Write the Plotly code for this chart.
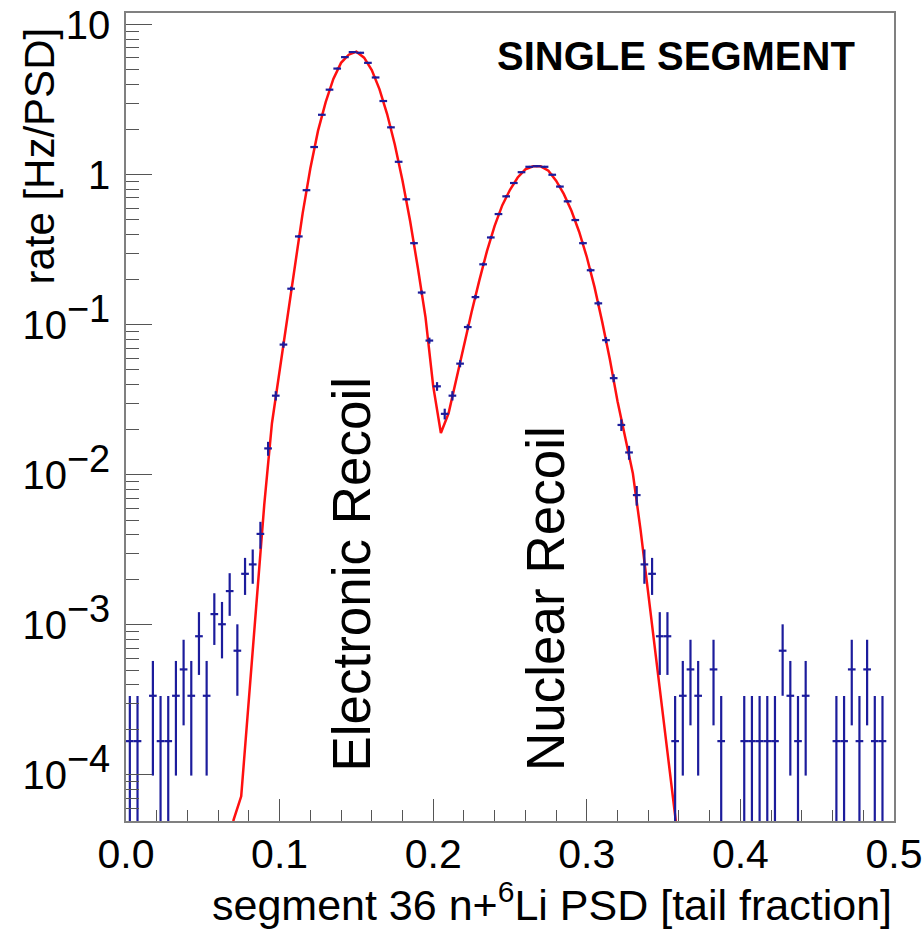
import plotly.graph_objects as go

# ---- data: histogram bins (bin centre, rate, error) ----
psd_bin = [0.0025, 0.0075, 0.0175, 0.0225, 0.0275, 0.0325, 0.0375, 0.0425, 0.0475, 0.0525,
           0.0575, 0.0625, 0.0675, 0.0725, 0.0775, 0.0825, 0.0875, 0.0925, 0.0975, 0.1025,
           0.1075, 0.1125, 0.1175, 0.1225, 0.1275, 0.1325, 0.1375, 0.1425, 0.1475, 0.1525,
           0.1575, 0.1625, 0.1675, 0.1725, 0.1775, 0.1825, 0.1875, 0.1925, 0.1975, 0.2025,
           0.2075, 0.2125, 0.2175, 0.2225, 0.2275, 0.2325, 0.2375, 0.2425, 0.2475, 0.2525,
           0.2575, 0.2625, 0.2675, 0.2725, 0.2775, 0.2825, 0.2875, 0.2925, 0.2975, 0.3025,
           0.3075, 0.3125, 0.3175, 0.3225, 0.3275, 0.3325, 0.3375, 0.3425, 0.3475, 0.3525,
           0.3575, 0.3625, 0.3675, 0.3725, 0.3825, 0.3875, 0.4025, 0.4075, 0.4125, 0.4175,
           0.4225, 0.4275, 0.4325, 0.4375, 0.4425, 0.4625, 0.4675, 0.4725, 0.4775, 0.4825,
           0.4875, 0.4925]

rate = [1.68e-4, 1.68e-4, 3.37e-4, 1.68e-4, 1.68e-4, 3.37e-4, 5.05e-4, 3.37e-4, 8.4e-4, 3.37e-4,
        1.18e-3, 1.01e-3, 1.68e-3, 6.73e-4, 2.19e-3, 2.53e-3, 4.04e-3, 1.50e-2, 3.37e-2, 7.38e-2,
        0.174, 0.388, 0.789, 1.53, 2.51, 3.69, 5.10, 6.08, 6.57, 6.50,
        5.57, 4.45, 3.10, 2.07, 1.22, 0.686, 0.350, 0.164, 0.0785, 0.0389,
        0.0255, 0.0337, 0.0551, 0.0966, 0.153, 0.253, 0.382, 0.547, 0.718, 0.881,
        1.04, 1.13, 1.14, 1.13, 1.00, 0.834, 0.665, 0.499, 0.350, 0.231,
        0.139, 0.079, 0.0441, 0.0215, 0.0141, 7.33e-3, 2.53e-3, 2.19e-3, 8.4e-4, 8.4e-4,
        1.68e-4, 3.37e-4, 5.05e-4, 3.37e-4, 5.05e-4, 1.68e-4, 1.68e-4, 1.68e-4, 1.68e-4, 1.68e-4,
        1.68e-4, 6.73e-4, 3.37e-4, 1.68e-4, 3.37e-4, 1.68e-4, 1.68e-4, 5.05e-4, 1.68e-4, 5.05e-4,
        1.68e-4, 1.68e-4]

rate_err_up = [1.68e-4, 1.68e-4, 2.38e-4, 1.68e-4, 1.68e-4, 2.38e-4, 2.91e-4, 2.38e-4, 3.76e-4, 2.38e-4,
               4.45e-4, 4.12e-4, 5.31e-4, 3.36e-4, 6.06e-4, 6.51e-4, 8.23e-4, 1.6e-3, 2.4e-3, 3.5e-3,
               5.4e-3, 8.1e-3, 1.15e-2, 1.6e-2, 2.05e-2, 2.5e-2, 2.9e-2, 3.2e-2, 3.3e-2, 3.3e-2,
               3.1e-2, 2.7e-2, 2.3e-2, 1.9e-2, 1.4e-2, 1.07e-2, 7.7e-3, 5.2e-3, 3.6e-3, 2.6e-3,
               2.1e-3, 2.4e-3, 3.0e-3, 4.0e-3, 5.1e-3, 6.5e-3, 8.0e-3, 9.6e-3, 1.1e-2, 1.2e-2,
               1.3e-2, 1.4e-2, 1.4e-2, 1.4e-2, 1.3e-2, 1.2e-2, 1.06e-2, 9.2e-3, 7.7e-3, 6.2e-3,
               4.8e-3, 3.6e-3, 2.7e-3, 1.9e-3, 1.5e-3, 1.1e-3, 6.51e-4, 6.06e-4, 3.76e-4, 3.76e-4,
               1.68e-4, 2.38e-4, 2.91e-4, 2.38e-4, 2.91e-4, 1.68e-4, 1.68e-4, 1.68e-4, 1.68e-4, 1.68e-4,
               1.68e-4, 3.36e-4, 2.38e-4, 1.68e-4, 2.38e-4, 1.68e-4, 1.68e-4, 2.91e-4, 1.68e-4, 2.91e-4,
               1.68e-4, 1.68e-4]

rate_err_down = [1.66e-4, 1.66e-4, 2.38e-4, 1.66e-4, 1.66e-4, 2.38e-4, 2.91e-4, 2.38e-4, 3.76e-4, 2.38e-4,
                 4.45e-4, 4.12e-4, 5.31e-4, 3.36e-4, 6.06e-4, 6.51e-4, 8.23e-4, 1.6e-3, 2.4e-3, 3.5e-3,
                 5.4e-3, 8.1e-3, 1.15e-2, 1.6e-2, 2.05e-2, 2.5e-2, 2.9e-2, 3.2e-2, 3.3e-2, 3.3e-2,
                 3.1e-2, 2.7e-2, 2.3e-2, 1.9e-2, 1.4e-2, 1.07e-2, 7.7e-3, 5.2e-3, 3.6e-3, 2.6e-3,
                 2.1e-3, 2.4e-3, 3.0e-3, 4.0e-3, 5.1e-3, 6.5e-3, 8.0e-3, 9.6e-3, 1.1e-2, 1.2e-2,
                 1.3e-2, 1.4e-2, 1.4e-2, 1.4e-2, 1.3e-2, 1.2e-2, 1.06e-2, 9.2e-3, 7.7e-3, 6.2e-3,
                 4.8e-3, 3.6e-3, 2.7e-3, 1.9e-3, 1.5e-3, 1.1e-3, 6.51e-4, 6.06e-4, 3.76e-4, 3.76e-4,
                 1.66e-4, 2.38e-4, 2.91e-4, 2.38e-4, 2.91e-4, 1.66e-4, 1.66e-4, 1.66e-4, 1.66e-4, 1.66e-4,
                 1.66e-4, 3.36e-4, 2.38e-4, 1.66e-4, 2.38e-4, 1.66e-4, 1.66e-4, 2.91e-4, 1.66e-4, 2.91e-4,
                 1.66e-4, 1.66e-4]

bin_half_width = 0.0025

# ---- fit curve ----
fit_x = [0.065, 0.070, 0.075, 0.080, 0.085, 0.090, 0.095, 0.100, 0.105, 0.110,
         0.115, 0.120, 0.125, 0.130, 0.135, 0.140, 0.145, 0.150, 0.155, 0.160,
         0.165, 0.170, 0.175, 0.180, 0.185, 0.190, 0.195, 0.200, 0.205, 0.210,
         0.215, 0.220, 0.225, 0.230, 0.235, 0.240, 0.245, 0.250, 0.255, 0.260,
         0.265, 0.270, 0.275, 0.280, 0.285, 0.290, 0.295, 0.300, 0.305, 0.310,
         0.315, 0.320, 0.325, 0.330, 0.335, 0.340, 0.345, 0.350, 0.355, 0.360, 0.365]
fit_y = [1.0e-5, 5.0e-5, 7.2e-5, 3.2e-4, 1.35e-3, 6.3e-3, 2.2e-2, 5.0e-2, 0.114, 0.26,
         0.553, 1.10, 1.96, 3.05, 4.35, 5.57, 6.31, 6.61, 6.03, 4.98,
         3.72, 2.54, 1.59, 0.914, 0.49, 0.24, 0.112, 0.039, 0.019, 0.0257,
         0.0437, 0.0730, 0.1216, 0.197, 0.310, 0.457, 0.627, 0.794, 0.959, 1.087,
         1.138, 1.138, 1.064, 0.914, 0.745, 0.575, 0.417, 0.283, 0.179, 0.105,
         0.0589, 0.0309, 0.0174, 0.0102, 4.3e-3, 1.66e-3, 6.3e-4, 2.34e-4, 8.9e-5, 3.3e-5, 1.0e-5]

# ---- axis ticks ----
x_tick_vals = [0.0, 0.1, 0.2, 0.3, 0.4, 0.5]
x_tick_text = ["0.0", "0.1", "0.2", "0.3", "0.4", "0.5"]
y_tick_vals = [1e-4, 1e-3, 1e-2, 1e-1, 1, 10]
SUP = '<sup><span style="font-size:38px">{}</span></sup>'
y_tick_text = ["10" + SUP.format("\u22124"), "10" + SUP.format("\u22123"),
               "10" + SUP.format("\u22122"), "10" + SUP.format("\u22121"), "1", "10"]
y_minor_vals = [m * 10.0 ** e for e in range(-5, 2) for m in range(2, 10)]

FONT = "Liberation Sans, Arial, Helvetica, sans-serif"
BLUE = "#1c1c9c"

fig = go.Figure()

fig.add_trace(go.Scatter(
    x=fit_x, y=fit_y, mode="lines",
    line=dict(color="#ff1010", width=2.5),
    hoverinfo="skip", showlegend=False,
))

fig.add_trace(go.Scatter(
    x=psd_bin, y=rate, mode="markers",
    marker=dict(color=BLUE, size=2),
    error_y=dict(type="data", array=rate_err_up, arrayminus=rate_err_down,
                 color=BLUE, thickness=2.2, width=0),
    error_x=dict(type="constant", value=bin_half_width, color=BLUE, thickness=2.2, width=0),
    showlegend=False,
))

fig.update_layout(
    width=924, height=931,
    margin=dict(l=126, r=30, t=13, b=110, autoexpand=False),
    paper_bgcolor="white", plot_bgcolor="white",
    font=dict(family=FONT, color="black"),
    showlegend=False,
    xaxis=dict(
        range=[0, 0.5], showgrid=False, zeroline=False, automargin=False,
        showline=True, linecolor="#808080", linewidth=1.5, mirror=True,
        tickmode="array", tickvals=x_tick_vals, ticktext=x_tick_text,
        ticks="inside", ticklen=22, tickwidth=1.2, tickcolor="#555555",
        tickfont=dict(family=FONT, size=41, color="black"),
        ticklabelstandoff=-4,
        minor=dict(tickmode="linear", tick0=0, dtick=0.02, ticks="inside",
                   ticklen=11, tickwidth=1.2, tickcolor="#555555", showgrid=False),
    ),
    yaxis=dict(
        type="log", range=[-4.307, 1.078], showgrid=False, zeroline=False, automargin=False,
        showline=True, linecolor="#808080", linewidth=1.5, mirror=True,
        tickmode="array", tickvals=y_tick_vals, ticktext=y_tick_text,
        ticks="inside", ticklen=26, tickwidth=1.2, tickcolor="#555555",
        tickfont=dict(family=FONT, size=40, color="black"),
        ticklabelstandoff=6,
        minor=dict(tickmode="array", tickvals=y_minor_vals, ticks="inside",
                   ticklen=13, tickwidth=1.2, tickcolor="#555555", showgrid=False),
    ),
    annotations=[
        dict(text="SINGLE SEGMENT", xref="paper", yref="paper", x=0.9515, y=0.947,
             xanchor="right", yanchor="middle", showarrow=False,
             font=dict(family=FONT, size=40, color="black", weight="bold")),
        dict(text="Electronic Recoil", xref="paper", yref="paper", x=0.294, y=0.059,
             xanchor="center", yanchor="bottom", textangle=-90, showarrow=False,
             font=dict(family=FONT, size=53, color="black")),
        dict(text="Nuclear Recoil", xref="paper", yref="paper", x=0.547, y=0.059,
             xanchor="center", yanchor="bottom", textangle=-90, showarrow=False,
             font=dict(family=FONT, size=53, color="black")),
        dict(text="rate [Hz/PSD]", xref="paper", yref="paper", x=-0.112, y=0.985,
             xanchor="center", yanchor="top", textangle=-90, showarrow=False,
             font=dict(family=FONT, size=42, color="black")),
        dict(text="segment 36 n+<sup>6</sup>Li PSD [tail fraction]", xref="paper", yref="paper",
             x=0.9995, y=-0.1, xanchor="right", yanchor="middle", showarrow=False,
             font=dict(family=FONT, size=43, color="black")),
    ],
)

fig.write_html("out.html")
